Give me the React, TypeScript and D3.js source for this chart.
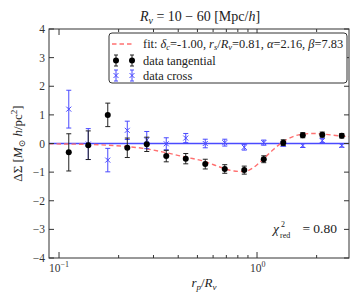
import React from "react";
import * as d3 from "d3";

// bin centres (r_p / R_v)
const rp = [0.112, 0.1405, 0.1763, 0.2212, 0.2774, 0.348, 0.4366, 0.5477, 0.6871, 0.862, 1.0815, 1.3567, 1.7022, 2.1354, 2.6791];
const tangential = [-0.31, -0.06, 1.0, -0.15, -0.03, -0.44, -0.53, -0.72, -0.89, -0.93, -0.55, 0.03, 0.29, 0.31, 0.27];
const tangentialErr = [0.65, 0.5, 0.41, 0.34, 0.25, 0.2, 0.18, 0.17, 0.15, 0.14, 0.12, 0.1, 0.09, 0.09, 0.08];
const cross = [1.2, -0.02, -0.58, 0.46, 0.12, -0.01, 0.19, 0.0, 0.03, -0.13, 0.03, -0.02, -0.07, 0.1, -0.07];
const crossErr = [0.66, 0.54, 0.41, 0.32, 0.3, 0.21, 0.16, 0.15, 0.12, 0.1, 0.09, 0.08, 0.07, 0.07, 0.06];

// fit curve
const fitX = [0.089, 0.112, 0.1414, 0.177, 0.2233, 0.278, 0.347, 0.438, 0.546, 0.613, 0.689, 0.765, 0.86, 0.954, 1.072, 1.205, 1.353, 1.52, 1.707, 1.917, 2.153, 2.5, 2.91];
const fitY = [-0.01, -0.02, -0.03, -0.06, -0.11, -0.19, -0.32, -0.48, -0.63, -0.76, -0.88, -0.96, -0.98, -0.85, -0.55, -0.22, 0.06, 0.24, 0.33, 0.35, 0.33, 0.28, 0.24];

const yTicks = [-4, -3, -2, -1, 0, 1, 2, 3, 4];
const xMajor = [0.1, 1];
const xMinor = [0.2, 0.3, 0.4, 0.5, 0.6, 0.7, 0.8, 0.9, 2];

const W = 352;
const H = 293;
const L = 49, R = 349, T = 29, B = 258;
const FONT = "'Liberation Serif', 'DejaVu Serif', serif";
const BLUE = "#4a4aff";
const AXC = "#333";

export default function App() {
  const x = d3.scaleLog().domain([0.089, 2.914]).range([L, R]);
  const y = d3.scaleLinear().domain([-4, 4]).range([B, T]);

  const fitLine = d3
    .line<number>()
    .x((_, i) => x(fitX[i]))
    .y((d) => y(d))
    .curve(d3.curveMonotoneX)(fitY) as string;

  const cap = 2.5;
  const errBar = (xv: number, yv: number, e: number, col: string, k: string) => (
    <g key={k} stroke={col} strokeWidth={1} fill="none">
      <line x1={x(xv)} x2={x(xv)} y1={y(yv - e)} y2={y(yv + e)} />
      <line x1={x(xv) - cap} x2={x(xv) + cap} y1={y(yv - e)} y2={y(yv - e)} />
      <line x1={x(xv) - cap} x2={x(xv) + cap} y1={y(yv + e)} y2={y(yv + e)} />
    </g>
  );
  const cross_ = (cx: number, cy: number, col: string, k: string) => (
    <g key={k} stroke={col} strokeWidth={1}>
      <line x1={cx - 2.5} x2={cx + 2.5} y1={cy - 2.5} y2={cy + 2.5} />
      <line x1={cx - 2.5} x2={cx + 2.5} y1={cy + 2.5} y2={cy - 2.5} />
    </g>
  );

  return (
    <svg width={W} height={H} style={{ position: "absolute", left: 0, top: 0 }} fontFamily={FONT}>
      <rect width={W} height={H} fill="#fff" />
      <defs>
        <clipPath id="plot">
          <rect x={L} y={T} width={R - L} height={B - T} />
        </clipPath>
      </defs>

      {/* title */}
      <text x={200} y={21} textAnchor="middle" fontSize={14} fill="#222">
        <tspan fontStyle="italic">R</tspan>
        <tspan fontStyle="italic" fontSize={10} dy={3}>v</tspan>
        <tspan dy={-3}> = 10 − 60 [Mpc/</tspan>
        <tspan fontStyle="italic">h</tspan>
        <tspan>]</tspan>
      </text>

      <g clipPath="url(#plot)">
        <line x1={L} x2={R} y1={y(0)} y2={y(0)} stroke={BLUE} strokeWidth={1.3} />
        <path d={fitLine} fill="none" stroke="#ff7070" strokeWidth={1.4} strokeDasharray="4.5,3" />
        {rp.map((r, i) => errBar(r, cross[i], crossErr[i], BLUE, "ce" + i))}
        {rp.map((r, i) => cross_(x(r), y(cross[i]), BLUE, "cm" + i))}
        {rp.map((r, i) => errBar(r, tangential[i], tangentialErr[i], "#222", "te" + i))}
        {rp.map((r, i) => (
          <circle key={"tm" + i} cx={x(r)} cy={y(tangential[i])} r={3} fill="#000" />
        ))}
      </g>

      {/* axes frame */}
      <rect x={L} y={T} width={R - L} height={B - T} fill="none" stroke={AXC} strokeWidth={1} />

      {/* y ticks */}
      {yTicks.map((t) => (
        <g key={"yt" + t}>
          <line x1={L} x2={L + 5} y1={y(t)} y2={y(t)} stroke={AXC} />
          <line x1={R - 5} x2={R} y1={y(t)} y2={y(t)} stroke={AXC} />
          <text x={L - 4} y={y(t) + 4} textAnchor="end" fontSize={11.5} fill="#333">
            {t < 0 ? "−" + Math.abs(t) : String(t)}
          </text>
        </g>
      ))}

      {/* x ticks */}
      {xMajor.map((t) => (
        <g key={"xM" + t}>
          <line x1={x(t)} x2={x(t)} y1={B} y2={B - 6} stroke={AXC} />
          <line x1={x(t)} x2={x(t)} y1={T} y2={T + 6} stroke={AXC} />
        </g>
      ))}
      {xMinor.map((t) => (
        <g key={"xm" + t}>
          <line x1={x(t)} x2={x(t)} y1={B} y2={B - 3} stroke={AXC} />
          <line x1={x(t)} x2={x(t)} y1={T} y2={T + 3} stroke={AXC} />
        </g>
      ))}
      <text x={x(0.1) - 10} y={272} fontSize={11.5} fill="#333">
        10<tspan fontSize={8} dy={-5}>−1</tspan>
      </text>
      <text x={x(1) - 7} y={272} fontSize={11.5} fill="#333">
        10<tspan fontSize={8} dy={-5}>0</tspan>
      </text>

      {/* axis labels */}
      <text x={204} y={287} textAnchor="middle" fontSize={13} fill="#222">
        <tspan fontStyle="italic">r</tspan>
        <tspan fontStyle="italic" fontSize={9} dy={3}>p</tspan>
        <tspan dy={-3}>/</tspan>
        <tspan fontStyle="italic">R</tspan>
        <tspan fontStyle="italic" fontSize={9} dy={3}>v</tspan>
      </text>
      <text transform={`translate(22,${(T + B) / 2}) rotate(-90)`} textAnchor="middle" fontSize={13} fill="#222">
        <tspan>ΔΣ [</tspan>
        <tspan fontStyle="italic">M</tspan>
        <tspan fontSize={9} dy={3}>⊙</tspan>
        <tspan dy={-3} fontStyle="italic"> h</tspan>
        <tspan>/pc</tspan>
        <tspan fontSize={9} dy={-5}>2</tspan>
        <tspan dy={5}>]</tspan>
      </text>

      {/* chi2 */}
      <text x={273} y={233} fontSize={13.5} fill="#222" fontStyle="italic">χ</text>
      <text x={281} y={227} fontSize={8} fill="#222">2</text>
      <text x={280} y={238} fontSize={8} fill="#222">red</text>
      <text x={337} y={233} textAnchor="end" fontSize={13.5} fill="#222">= 0.80</text>

      {/* legend */}
      <rect x={109} y={33} width={238} height={50} rx={3} fill="#fff" stroke={AXC} strokeWidth={1} />
      <line x1={112} x2={134} y1={44} y2={44} stroke="#ff7070" strokeWidth={1.4} strokeDasharray="4.5,3" />
      <text x={143} y={48} fontSize={12.4} fill="#222">
        <tspan>fit: </tspan>
        <tspan fontStyle="italic">δ</tspan>
        <tspan fontStyle="italic" fontSize={8.5} dy={2}>c</tspan>
        <tspan dy={-2}>=-1.00, </tspan>
        <tspan fontStyle="italic">r</tspan>
        <tspan fontStyle="italic" fontSize={8.5} dy={2}>s</tspan>
        <tspan dy={-2}>/</tspan>
        <tspan fontStyle="italic">R</tspan>
        <tspan fontStyle="italic" fontSize={8.5} dy={2}>v</tspan>
        <tspan dy={-2}>=0.81, </tspan>
        <tspan fontStyle="italic">α</tspan>
        <tspan>=2.16, </tspan>
        <tspan fontStyle="italic">β</tspan>
        <tspan>=7.83</tspan>
      </text>
      {[116, 132].map((lx) => (
        <g key={"lt" + lx} stroke="#222">
          <line x1={lx} x2={lx} y1={55} y2={66} />
          <line x1={lx - 2} x2={lx + 2} y1={55} y2={55} />
          <line x1={lx - 2} x2={lx + 2} y1={66} y2={66} />
          <circle cx={lx} cy={60.5} r={3} fill="#000" stroke="none" />
        </g>
      ))}
      <text x={143} y={64.5} fontSize={12.4} fill="#222">data tangential</text>
      {[116, 132].map((lx) => (
        <g key={"lc" + lx}>
          <g stroke={BLUE}>
            <line x1={lx} x2={lx} y1={70} y2={81} />
            <line x1={lx - 2} x2={lx + 2} y1={70} y2={70} />
            <line x1={lx - 2} x2={lx + 2} y1={81} y2={81} />
          </g>
          {cross_(lx, 75.5, BLUE, "x")}
        </g>
      ))}
      <text x={143} y={79.5} fontSize={12.4} fill="#222">data cross</text>
    </svg>
  );
}
